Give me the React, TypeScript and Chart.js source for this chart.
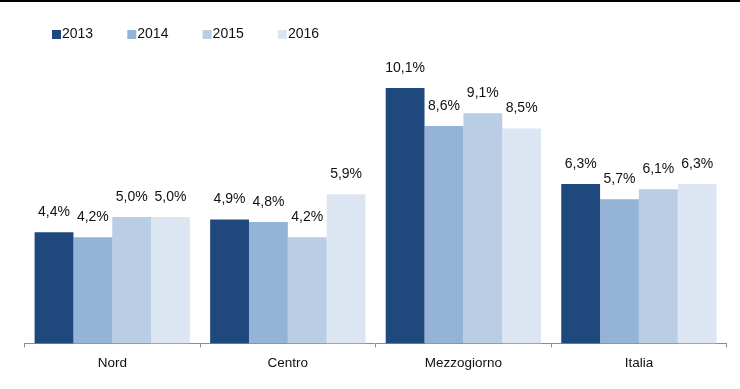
import React, { useEffect, useRef } from "react";
import { Chart, registerables } from "chart.js";

Chart.register(...registerables);

const categories = ["Nord", "Centro", "Mezzogiorno", "Italia"];
const seriesLabels = ["2013", "2014", "2015", "2016"];
const values2013 = [4.4, 4.9, 10.1, 6.3];
const values2014 = [4.2, 4.8, 8.6, 5.7];
const values2015 = [5.0, 4.2, 9.1, 6.1];
const values2016 = [5.0, 5.9, 8.5, 6.3];
const seriesColors = ["#1F497D", "#95B3D7", "#B9CDE5", "#DCE6F2"];

const FONT = '"Liberation Sans", Arial, sans-serif';

const fmt = (v: number) => v.toFixed(1).replace(".", ",") + "%";

const decorPlugin = {
  id: "decor",
  afterDatasetsDraw(chart: any) {
    const ctx = chart.ctx;
    ctx.save();
    ctx.font = `14px ${FONT}`;
    ctx.fillStyle = "#111";
    ctx.textAlign = "center";
    ctx.textBaseline = "middle";
    chart.data.datasets.forEach((ds: any, di: number) => {
      const meta = chart.getDatasetMeta(di);
      meta.data.forEach((el: any, i: number) => {
        ctx.fillText(fmt(ds.data[i]), el.x, el.y - 20);
      });
    });
    ctx.restore();
  },
  afterDraw(chart: any) {
    const ctx = chart.ctx;
    ctx.save();
    // top rule
    ctx.fillStyle = "#000";
    ctx.fillRect(0, 0, chart.width, 2);
    // legend
    ctx.font = `14px ${FONT}`;
    ctx.textAlign = "left";
    ctx.textBaseline = "middle";
    chart.data.datasets.forEach((ds: any, di: number) => {
      const x = 52 + di * 75.3;
      ctx.fillStyle = ds.backgroundColor;
      ctx.fillRect(x, 30, 9, 9);
      ctx.fillStyle = "#111";
      ctx.fillText(ds.label, x + 10, 34.5);
    });
    ctx.restore();
  },
};

export default function App() {
  const ref = useRef<HTMLCanvasElement>(null);
  useEffect(() => {
    document.body.style.margin = "0";
    const allValues = [values2013, values2014, values2015, values2016];
    const chart = new Chart(ref.current!, {
      type: "bar",
      data: {
        labels: categories,
        datasets: allValues.map((vals, i) => ({
          label: seriesLabels[i],
          data: vals,
          backgroundColor: seriesColors[i],
          borderWidth: 0,
          categoryPercentage: 0.885,
          barPercentage: 1,
        })),
      },
      options: {
        animation: false,
        responsive: false,
        layout: { padding: { left: 24.5, right: 13.3, top: 65.25, bottom: 9.4 } },
        plugins: {
          legend: { display: false },
          tooltip: { enabled: false },
        },
        scales: {
          x: {
            offset: true,
            border: { display: true, color: "#8c8c8c", width: 1 },
            grid: {
              display: true,
              offset: true,
              drawOnChartArea: false,
              drawTicks: true,
              tickLength: 4,
              color: "#8c8c8c",
            },
            ticks: {
              color: "#111",
              font: { family: FONT, size: 13.5 },
              padding: 8,
            },
          },
          y: {
            display: false,
            min: 0,
            max: 11,
          },
        },
      },
      plugins: [decorPlugin],
    });
    return () => chart.destroy();
  }, []);
  return (
    <div style={{ width: 740, height: 389 }}>
      <canvas ref={ref} width={740} height={389} style={{ display: "block" }} />
    </div>
  );
}
